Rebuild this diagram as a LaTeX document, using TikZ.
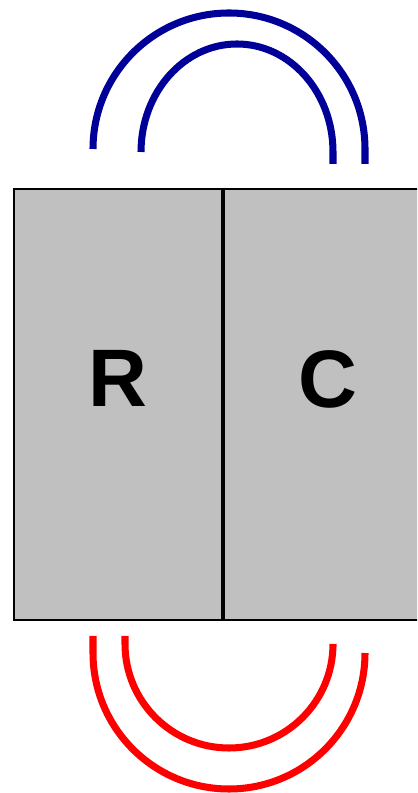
\documentclass[tikz,border=0pt]{standalone}
\usepackage{fontspec}
\setsansfont{Liberation Sans}
\usetikzlibrary{positioning}
\definecolor{c1}{HTML}{000000}
\definecolor{c2}{HTML}{000099}
\definecolor{c3}{HTML}{FF0000}
\definecolor{fillgray}{HTML}{C0C0C0}

\begin{document}
\begin{tikzpicture}[
    x=0.025cm, y=0.025cm,
    every node/.style={font=\sffamily},
    cell/.style={rectangle, draw=c1, fill=fillgray, line width=1.4pt,
                 minimum width=5.2cm, minimum height=10.775cm, inner sep=0pt},
    letter/.style={font=\sffamily\bfseries\fontsize{58}{60}\selectfont,
                   text=c1, inner sep=0pt, text depth=0pt},
    loopup/.style={c2, line width=5pt},
    loopdown/.style={c3, line width=5pt},
]
\clip (0,0) rectangle (417,793);

% ================================================================ the two cells
\node[cell, anchor=north west] (Rbox) at (13,605) {};
\node[cell, anchor=north west] (Cbox) at (Rbox.north east) {};

\node[letter] (R) at ([yshift=0.64cm]Rbox.center) {R};
\node[letter] (C) at ([yshift=0.64cm]Cbox.center) {C};

% ================================================================ blue loops above
\draw[loopup] (93,644) arc[start angle=180, end angle=0, radius=136] -- (365,629);
\draw[loopup] (141,641) arc[start angle=180, end angle=0, x radius=96, y radius=108] -- (333,629);

% ================================================================ red loops below
\draw[loopdown] (93,157) -- (93,140) arc[start angle=180, end angle=360, radius=136];
\draw[loopdown] (125,157) -- (125,149) arc[start angle=180, end angle=360, radius=104] -- (333,146);

\end{tikzpicture}
\end{document}
